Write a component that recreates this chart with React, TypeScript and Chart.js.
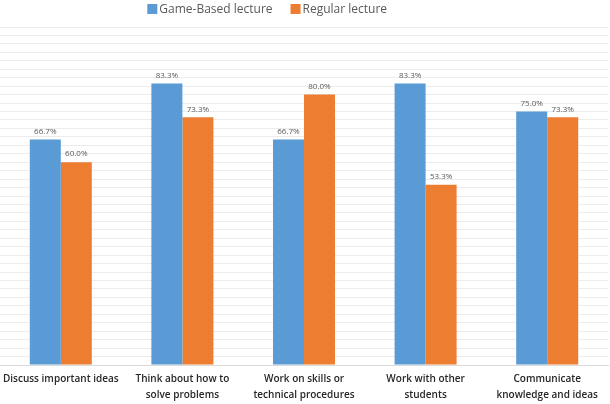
import React, { useEffect, useRef } from "react";
import { Chart, registerables } from "chart.js";

Chart.register(...registerables);

const categories: string[][] = [
  ["Discuss important ideas"],
  ["Think about how to", "solve problems"],
  ["Work on skills or", "technical procedures"],
  ["Work with other", "students"],
  ["Communicate", "knowledge and ideas"],
];
const gameBased = [66.7, 83.3, 66.7, 83.3, 75.0];
const regular = [60.0, 73.3, 80.0, 53.3, 73.3];
const seriesNames = ["Game-Based lecture", "Regular lecture"];
const seriesColors = ["#5B9BD5", "#ED7D31"];

const labelPlugin = {
  id: "barLabels",
  afterDatasetsDraw(chart: any) {
    const ctx = chart.ctx;
    ctx.save();
    ctx.font = "8px 'Open Sans', sans-serif";
    ctx.fillStyle = "#595959";
    ctx.textAlign = "center";
    ctx.textBaseline = "bottom";
    chart.data.datasets.forEach((ds: any, i: number) => {
      const meta = chart.getDatasetMeta(i);
      meta.data.forEach((bar: any, j: number) => {
        ctx.fillText(ds.data[j].toFixed(1) + "%", bar.x, bar.y - 4);
      });
    });
    ctx.restore();
  },
};

const legendPlugin = {
  id: "customLegend",
  afterDraw(chart: any) {
    const ctx = chart.ctx;
    ctx.save();
    ctx.font = "500 12px 'Open Sans', sans-serif";
    ctx.textBaseline = "middle";
    const box = 10;
    const gapBoxText = 2;
    const gapItems = 18;
    const widths = seriesNames.map((n) => ctx.measureText(n).width);
    const total = widths.reduce((a, w) => a + box + gapBoxText + w, 0) + gapItems;
    let x = chart.width * 0.438 - total / 2;
    const y = 9;
    seriesNames.forEach((n, i) => {
      ctx.fillStyle = seriesColors[i];
      ctx.fillRect(x, y - box / 2, box, box);
      x += box + gapBoxText;
      ctx.fillStyle = "#595959";
      ctx.fillText(n, x, y + 1);
      x += widths[i] + gapItems;
    });
    ctx.restore();
  },
};

export default function App() {
  const ref = useRef<HTMLCanvasElement | null>(null);
  useEffect(() => {
    document.body.style.margin = "0";
    const chart = new Chart(ref.current!, {
      type: "bar",
      data: {
        labels: categories,
        datasets: [
          { label: seriesNames[0], data: gameBased, backgroundColor: seriesColors[0] },
          { label: seriesNames[1], data: regular, backgroundColor: seriesColors[1] },
        ],
      },
      options: {
        responsive: false,
        animation: false,
        layout: { padding: { left: 0, right: 2, top: 27, bottom: -5 } },
        datasets: { bar: { categoryPercentage: 0.51, barPercentage: 1 } },
        plugins: {
          legend: { display: false },
          tooltip: { enabled: false },
        },
        scales: {
          x: {
            grid: { display: false, drawTicks: false },
            border: { color: "#d9d9d9" },
            ticks: {
              color: "#262626",
              font: { size: 10, family: "'Open Sans', sans-serif", weight: "600", lineHeight: 1.6 },
              maxRotation: 0,
              autoSkip: false,
              padding: 6,
            },
            afterFit: (s: any) => {
              s.paddingLeft = 0;
              s.paddingRight = 0;
            },
          },
          y: {
            min: 0,
            max: 100,
            ticks: { display: false, stepSize: 2.5, padding: 0 },
            border: { display: false },
            grid: { color: "#ececec", drawTicks: false },
            afterFit: (s: any) => {
              s.width = 0;
            },
          },
        },
      },
      plugins: [labelPlugin, legendPlugin],
    });
    return () => chart.destroy();
  }, []);
  return <canvas ref={ref} width={610} height={404} style={{ display: "block" }} />;
}
